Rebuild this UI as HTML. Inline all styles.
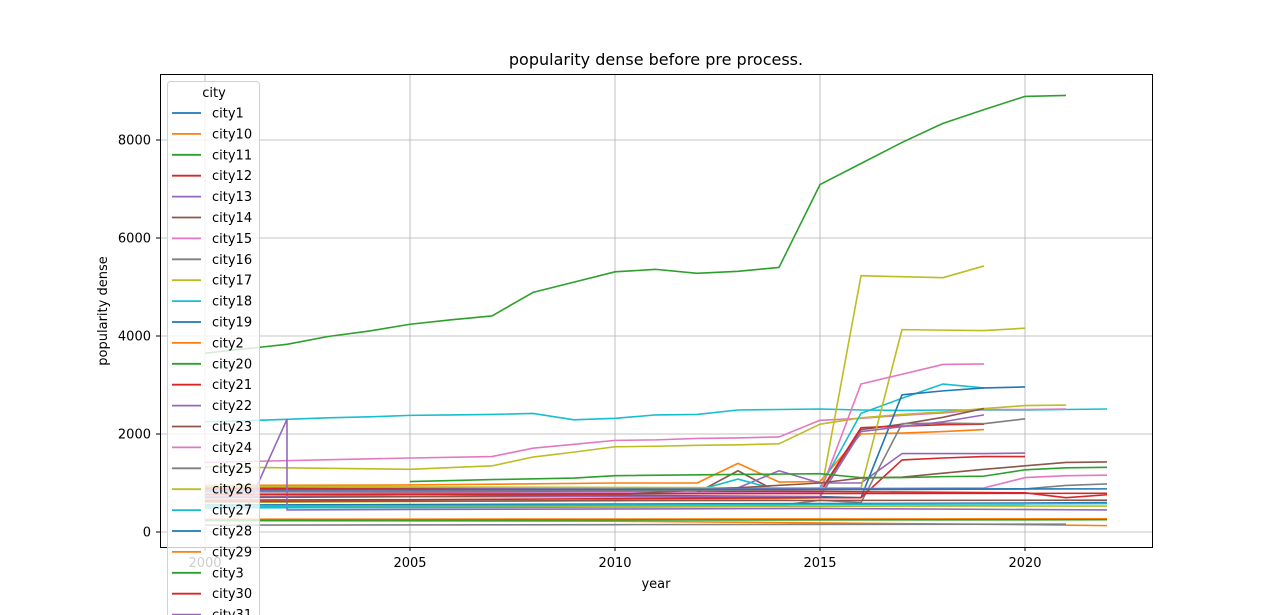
<!DOCTYPE html>
<html><head><meta charset="utf-8"><style>
html,body{margin:0;padding:0;background:#fff;}
svg{display:block;font-family:"DejaVu Sans","Liberation Sans",sans-serif;}
</style></head><body>
<svg id="chart" width="1280" height="615" viewBox="0 0 1280 615">
<text x="656" y="65" font-size="16" text-anchor="middle" fill="#000">popularity dense before pre process.</text>
<g id="grid"></g>
<g id="plot"></g>
<rect x="160.5" y="74.5" width="992" height="473" fill="none" stroke="#000" stroke-width="1"/>
<g id="ticks"></g>
<text x="656" y="588" font-size="13" text-anchor="middle">year</text>
<text transform="translate(107,311) rotate(-90)" font-size="13" text-anchor="middle">popularity dense</text>
<g id="legend"></g>
</svg>
<script>
const xTicks = [2000, 2005, 2010, 2015, 2020];
const yTicks = [0, 2000, 4000, 6000, 8000];
const seriesNames = ["city11","city18","city15","city17","city2","city14","city13","city27","city21","city16","city19","city26","city26b","city24","city22","city30","city23","city1","city10","city20","city25","city12","city27b","city24b","city25b","city28","city22b","city3c","city26c","city18b","city29","city3","city23b","city30b"];
const seriesYears = [
 [2000,2001,2002,2003,2004,2005,2006,2007,2008,2009,2010,2011,2012,2013,2014,2015,2016,2017,2018,2019,2020,2021],
 [2000,2001,2002,2003,2004,2005,2006,2007,2008,2009,2010,2011,2012,2013,2014,2015,2016,2017,2018,2019,2020,2021,2022],
 [2000,2005,2007,2008,2009,2010,2011,2012,2013,2014,2015,2016,2017,2018,2019,2020,2021],
 [2000,2003,2005,2007,2008,2009,2010,2011,2012,2013,2014,2015,2016,2017,2018,2019,2020,2021],
 [2000,2005,2010,2012,2013,2014,2015,2016,2017,2018,2019],
 [2000,2005,2010,2012,2013,2014,2015,2016,2017,2018,2019],
 [2000,2005,2010,2013,2014,2015,2016,2017,2018,2019,2020],
 [2000,2005,2010,2012,2013,2014,2015,2016,2017,2018,2019],
 [2000,2005,2010,2015,2016,2017,2018,2019],
 [2000,2005,2010,2014,2015,2016,2017,2018,2019,2020],
 [2000,2005,2010,2015,2016,2017,2018,2019,2020],
 [2000,2005,2009,2014,2015,2016,2017,2018,2019],
 [2000,2005,2010,2015,2016,2017,2018,2019,2020],
 [2000,2005,2010,2015,2016,2017,2018,2019],
 [2000,2005,2010,2015,2016,2017,2018,2019],
 [2000,2005,2010,2015,2016,2017,2018,2019,2020],
 [2000,2005,2010,2015,2016,2017,2018,2019,2020,2021,2022],
 [2000,2010,2020,2022],
 [2000,2010,2020,2022],
 [2006,2010,2015,2021],
 [2000,2010,2021],
 [2000,2010,2020,2021,2022],
 [2000,2010,2020],
 [2000,2010,2019,2020,2021,2022],
 [2000,2010,2020,2021,2022],
 [2000,2010,2022],
 [2001,2002,2002,2005,2010,2015,2022],
 [2005,2007,2009,2010,2015,2016,2017,2018,2019,2020,2021,2022],
 [2000,2010,2022],
 [2000,2010,2022],
 [2000,2010,2022],
 [2000,2010,2022],
 [2000,2010,2022],
 [2000,2010,2022]
];
const seriesValues = [
 [3650,3740,3830,3990,4100,4240,4330,4410,4890,5100,5310,5360,5280,5320,5400,7090,7520,7950,8340,8620,8890,8910],
 [2250,2270,2300,2330,2350,2380,2390,2400,2420,2290,2320,2390,2400,2490,2500,2510,2490,2480,2490,2490,2490,2500,2510],
 [1420,1510,1540,1710,1790,1870,1880,1910,1920,1940,2280,2320,2380,2430,2500,2500,2510],
 [1330,1300,1280,1350,1530,1630,1740,1750,1770,1780,1800,2200,2330,2400,2450,2520,2580,2590],
 [950,960,1000,1000,1400,1020,1030,2000,2020,2050,2090],
 [830,820,810,800,1250,800,800,2090,2200,2340,2520],
 [880,890,900,900,1250,1000,1000,1600,1600,1600,1610],
 [700,760,820,850,1080,850,900,2420,2730,3020,2940],
 [900,880,850,820,2130,2160,2190,2200],
 [500,510,520,540,650,600,2210,2220,2210,2310],
 [780,770,750,720,700,2800,2880,2940,2960],
 [600,620,640,680,700,5230,5210,5190,5430],
 [930,920,910,900,900,4130,4120,4110,4160],
 [780,790,800,800,3020,3220,3420,3430],
 [720,720,720,720,2050,2150,2250,2390],
 [650,660,680,700,700,1470,1510,1540,1540],
 [700,720,760,1000,1100,1120,1200,1280,1350,1420,1430],
 [550,570,590,600],
 [230,220,150,130],
 [250,260,250,260],
 [140,150,160],
 [880,850,800,700,760],
 [490,510,540],
 [850,870,900,1110,1150,1160],
 [820,840,880,950,980],
 [860,870,880],
 [450,2300,450,460,470,480,450],
 [1030,1070,1100,1150,1190,1110,1110,1130,1140,1270,1310,1320],
 [530,530,530],
 [520,550,580],
 [260,265,270],
 [240,245,250],
 [620,640,650],
 [760,780,790]
];
const seriesColors = ["#2ca02c","#17becf","#e377c2","#bcbd22","#ff7f0e","#8c564b","#9467bd","#17becf","#d62728","#7f7f7f","#1f77b4","#bcbd22","#bcbd22","#e377c2","#9467bd","#d62728","#8c564b","#1f77b4","#ff7f0e","#2ca02c","#7f7f7f","#d62728","#17becf","#e377c2","#7f7f7f","#1f77b4","#9467bd","#2ca02c","#bcbd22","#17becf","#ff7f0e","#2ca02c","#8c564b","#d62728"];
const legendNames = ["city1","city10","city11","city12","city13","city14","city15","city16","city17","city18","city19","city2","city20","city21","city22","city23","city24","city25","city26","city27","city28","city29","city3","city30","city31"];
const tab10 = ["#1f77b4","#ff7f0e","#2ca02c","#d62728","#9467bd","#8c564b","#e377c2","#7f7f7f","#bcbd22","#17becf"];

const NS = "http://www.w3.org/2000/svg";
const xS = y => 205 + (y - 2000) * 41;
const yS = v => 532 - v * 0.049;
function mk(tag, attrs, parent){const e=document.createElementNS(NS,tag);for(const k in attrs)e.setAttribute(k,attrs[k]);parent.appendChild(e);return e;}
const grid=document.getElementById('grid'), plot=document.getElementById('plot'), ticks=document.getElementById('ticks'), legend=document.getElementById('legend');

xTicks.forEach(t=>{
  const x=xS(t);
  const g=mk('line',{x1:x,x2:x,y1:74,y2:547,stroke:'#b0b0b0','stroke-width':0.8},grid);
  
  
  const tk=mk('line',{x1:x,x2:x,y1:547,y2:551,stroke:'#000'},ticks);
  
  
  const tl=mk('text',{x:x,y:567,'font-size':13,'text-anchor':'middle'},ticks);
  tl.textContent=t;
  
  
});
yTicks.forEach(t=>{
  const y=yS(t);
  const g=mk('line',{x1:160,x2:1152,y1:y,y2:y,stroke:'#b0b0b0','stroke-width':0.8},grid);
  
  
  const tk=mk('line',{x1:156,x2:160,y1:y,y2:y,stroke:'#000'},ticks);
  
  
  const tl=mk('text',{x:151,y:y+4.5,'font-size':13,'text-anchor':'end'},ticks);
  tl.textContent=t;
  
  
});
seriesNames.forEach((n,i)=>{
  const pts=seriesYears[i].map((yr,j)=>xS(yr)+','+yS(seriesValues[i][j])).join(' ');
  const p=mk('polyline',{points:pts,fill:'none',stroke:seriesColors[i],'stroke-width':1.6,'stroke-linejoin':'round'},plot);
  
  
});
const box=mk('rect',{x:167.5,y:81.5,width:92,height:560,rx:3,fill:'rgba(255,255,255,0.8)',stroke:'#d0d0d0'},legend);


const lt=mk('text',{x:214,y:97,'font-size':13,'text-anchor':'middle'},legend);
lt.textContent='city';


legendNames.forEach((n,i)=>{
  const y=113+i*20.9;
  const g=mk('g',{},legend);
  
  
  mk('line',{x1:172,x2:201,y1:y,y2:y,stroke:tab10[i%10],'stroke-width':1.8},g);
  const t=mk('text',{x:212,y:y+4.5,'font-size':13},g);
  t.textContent=n;
});
</script>
</body></html>
